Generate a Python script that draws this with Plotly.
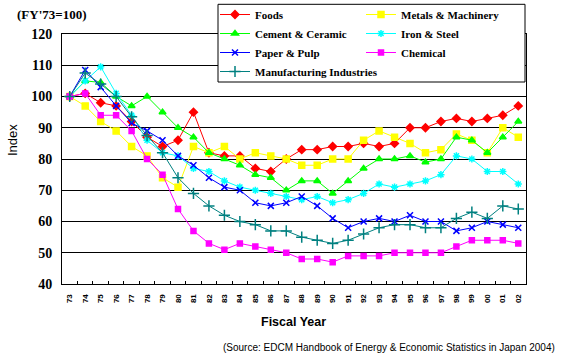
import plotly.graph_objects as go

years = ["73", "74", "75", "76", "77", "78", "79", "80", "81", "82", "83", "84", "85", "86", "87",
         "88", "89", "90", "91", "92", "93", "94", "95", "96", "97", "98", "99", "00", "01", "02"]

foods = [100, 101, 98, 97, 92, 87, 84, 86, 95, 82, 81, 81, 77, 76, 80, 83, 83, 84, 84, 85, 84, 85, 90, 90, 92, 93, 92, 93, 94, 97]
metals = [100, 97, 92, 89, 84, 81, 74, 71, 84, 82, 84, 80, 82, 81, 80, 78, 78, 80, 80, 86, 89, 87, 85, 82, 83, 88, 86, 82, 90, 87]
cement = [100, 105, 104.5, 100, 97, 100, 95, 90, 87, 82, 80, 78, 75, 74, 70, 73, 73, 69, 73, 77, 80, 80, 81, 79, 80, 87, 86, 82, 87, 92]
iron = [100, 105, 109.5, 101, 94, 86, 82, 81, 77, 76, 73, 71, 70, 69, 68, 67, 68, 66, 67, 69, 72, 71, 72, 73, 75, 81, 80, 76, 76, 72]
paper = [100, 108.5, 103, 97, 91.5, 89, 86, 81, 78, 74, 71, 70, 66, 65, 66, 68, 65, 61, 58, 60, 61, 60, 62, 60, 60, 57, 58, 60, 59, 58]
chemical = [100, 101, 94, 94, 89, 80, 75, 64, 57, 53, 51, 53, 52, 51, 50, 48, 48, 47, 49, 49, 49, 50, 50, 50, 50, 52, 54, 54, 54, 53]
manufacturing = [100, 107.5, 104, 100, 93.5, 87.5, 82, 74, 69, 65, 62, 60, 59, 57, 57, 55, 54, 53, 54, 56, 58, 59, 59, 58, 58, 61, 63, 61, 65, 64]

series = [
    ("Foods", foods, "#FF0000", "diamond", 6, "legend"),
    ("Metals & Machinery", metals, "#FFFF00", "square", 6, "legend2"),
    ("Cement & Ceramic", cement, "#00FF00", "triangle-up", 6, "legend"),
    ("Iron & Steel", iron, "#00FFFF", "asterisk-open", 6, "legend2"),
    ("Paper & Pulp", paper, "#0000FF", "x-thin-open", 6, "legend"),
    ("Chemical", chemical, "#FF00FF", "square", 5, "legend2"),
    ("Manufacturing Industries", manufacturing, "#008080", "cross-thin-open", 8, "legend"),
]

fig = go.Figure()
for name, vals, color, sym, size, lg in series:
    fig.add_trace(go.Scatter(
        x=years, y=vals, name=name, mode="lines+markers",
        line=dict(color=color, width=1),
        marker=dict(symbol=sym, size=size, color=color, line=dict(color=color, width=1.5)),
        legend=lg,
    ))

W, H = 563, 357
L, R, T, B = 62, 526, 34, 284
pw, ph = R - L, B - T


def px(x):
    return (x - L) / pw


def py(y):
    return (B - y) / ph


legend_font = dict(family="Liberation Serif", size=11, color="black", weight="bold")

fig.update_layout(
    width=W, height=H,
    margin=dict(l=L, r=W - R, t=T, b=H - B, autoexpand=False),
    plot_bgcolor="white", paper_bgcolor="white",
    showlegend=True,
    legend=dict(x=px(215), y=py(0), xanchor="left", yanchor="top", bgcolor="rgba(0,0,0,0)",
                borderwidth=0, font=legend_font, itemwidth=30, tracegroupgap=0),
    legend2=dict(x=px(361), y=py(0), xanchor="left", yanchor="top", bgcolor="rgba(0,0,0,0)",
                 borderwidth=0, font=legend_font, itemwidth=30, tracegroupgap=0),
    xaxis=dict(type="category", range=[-0.5, 29.5], showline=True, linecolor="black", linewidth=1,
               mirror=True, showgrid=False, ticks="inside", ticklen=3, tickcolor="black",
               tickson="boundaries", tickangle=-90, ticklabelstandoff=6,
               tickfont=dict(family="Liberation Sans", size=8, color="black", weight="bold")),
    yaxis=dict(range=[40, 120], dtick=10, showline=True, linecolor="black", linewidth=1, mirror=True,
               showgrid=True, gridcolor="black", gridwidth=1, zeroline=False, ticks="",
               ticklabelstandoff=6,
               tickfont=dict(family="Liberation Serif", size=14, color="black", weight="bold")),
    shapes=[dict(type="rect", xref="paper", yref="paper", x0=px(218), x1=px(525), y0=py(82), y1=py(4.3),
                 line=dict(color="black", width=1), fillcolor="white", layer="above")],
    annotations=[
        dict(text="(FY'73=100)", xref="paper", yref="paper", x=px(52), y=py(15), showarrow=False,
             xanchor="center", yanchor="middle",
             font=dict(family="Liberation Serif", size=13, color="black", weight="bold")),
        dict(text="Index", xref="paper", yref="paper", x=px(12), y=py(140), showarrow=False,
             textangle=-90, xanchor="center", yanchor="middle",
             font=dict(family="Liberation Sans", size=13, color="black")),
        dict(text="Fiscal Year", xref="paper", yref="paper", x=px(293), y=py(322), showarrow=False,
             xanchor="center", yanchor="middle",
             font=dict(family="Liberation Sans", size=12.5, color="black", weight="bold")),
        dict(text="(Source: EDCM Handbook of Energy & Economic Statistics in Japan 2004)",
             xref="paper", yref="paper", x=px(557), y=py(347), showarrow=False,
             xanchor="right", yanchor="middle",
             font=dict(family="Liberation Sans", size=10, color="black")),
    ],
)

fig.write_html("out.html", config={"displayModeBar": False},
               post_script="document.body.style.margin='0';document.body.style.overflow='hidden';")
